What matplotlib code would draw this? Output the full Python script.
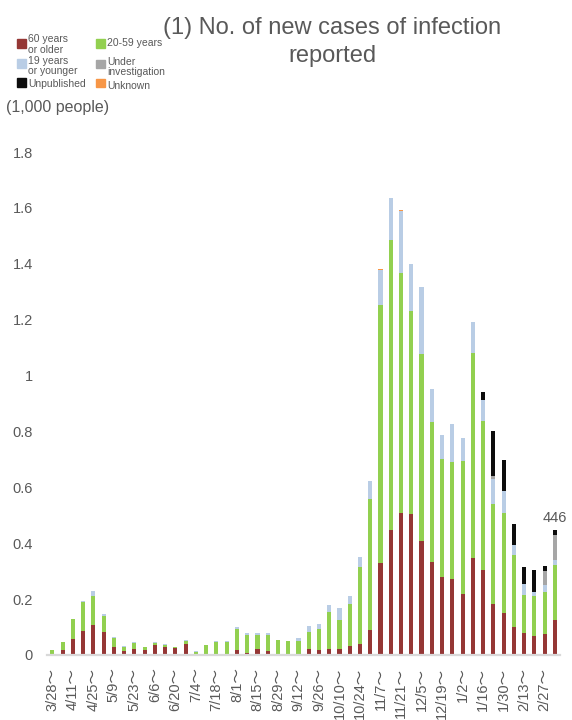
import numpy as np
import matplotlib
matplotlib.use('Agg')
import matplotlib.pyplot as plt
from matplotlib.patches import Rectangle

plt.rcParams['font.family'] = ['Liberation Sans', 'Noto Sans CJK JP']

# weekly new cases (1,000 people), week starting 3/28 ... 3/6
tick_labels = ['3/28', '4/11', '4/25', '5/9', '5/23', '6/6', '6/20', '7/4', '7/18',
               '8/1', '8/15', '8/29', '9/12', '9/26', '10/10', '10/24', '11/7',
               '11/21', '12/5', '12/19', '1/2', '1/16', '1/30', '2/13', '2/27']

age60 = [0.005, 0.017, 0.058, 0.086, 0.107, 0.082, 0.028, 0.014, 0.022, 0.018,
         0.035, 0.028, 0.024, 0.039, 0.001, 0.005, 0.005, 0.001, 0.019, 0.008,
         0.020, 0.013, 0.004, 0.001, 0.004, 0.020, 0.017, 0.020, 0.020, 0.033,
         0.041, 0.089, 0.329, 0.449, 0.508, 0.505, 0.408, 0.332, 0.280, 0.272,
         0.220, 0.346, 0.304, 0.184, 0.150, 0.100, 0.079, 0.067, 0.075, 0.126]
age20_59 = [0.013, 0.029, 0.070, 0.102, 0.103, 0.057, 0.033, 0.016, 0.021, 0.009,
            0.007, 0.009, 0.004, 0.010, 0.011, 0.030, 0.042, 0.045, 0.075, 0.064,
            0.051, 0.057, 0.048, 0.048, 0.045, 0.062, 0.076, 0.134, 0.106, 0.150,
            0.274, 0.469, 0.924, 1.036, 0.859, 0.726, 0.669, 0.502, 0.420, 0.420,
            0.476, 0.734, 0.535, 0.358, 0.358, 0.259, 0.137, 0.145, 0.152, 0.197]
age19 = [0.001, 0.001, 0.002, 0.005, 0.019, 0.006, 0.003, 0.001, 0.005, 0.001,
         0.003, 0.001, 0.001, 0.005, 0.001, 0.002, 0.002, 0.003, 0.006, 0.006,
         0.006, 0.008, 0.003, 0.002, 0.012, 0.022, 0.017, 0.026, 0.042, 0.028,
         0.036, 0.065, 0.125, 0.149, 0.222, 0.167, 0.239, 0.117, 0.086, 0.136,
         0.080, 0.111, 0.074, 0.089, 0.080, 0.036, 0.038, 0.015, 0.025, 0.018]
under_inv = [0] * 43 + [0.011, 0, 0, 0, 0, 0.050, 0.090]
unpublished = [0] * 42 + [0.029, 0.159, 0.111, 0.073, 0.061, 0.078, 0.015, 0.015]
unknown = [0] * 32 + [0.004, 0, 0.004, 0.002, 0.002, 0.002] + [0] * 12

series = [age60, age20_59, age19, under_inv, unpublished, unknown]
colors = ['#953735', '#92D050', '#B9CDE5', '#A6A6A6', '#0D0D0D', '#F79646']
legend_labels = ['60 years\nor older', '20-59 years', '19 years\nor younger',
                 'Under\ninvestigation', 'Unpublished', 'Unknown']
text_c = '#595959'

W, H = 572, 720
fig = plt.figure(figsize=(W / 100, H / 100), dpi=100)
ax = fig.add_axes([46.7 / W, 65 / H, (560 - 46.7) / W, (655 - 138.1) / H])

x = np.arange(len(age60))
bottom = np.zeros(len(x))
for vals, color in zip(series, colors):
    ax.bar(x, vals, 0.4, bottom=bottom, color=color, linewidth=0)
    bottom += np.array(vals)

# label on last bar
ax.annotate(f'{round(bottom[-1] * 1000)}', (x[-1], bottom[-1]), xytext=(0, 4),
            textcoords='offset points', ha='center', va='bottom',
            fontsize=10.5, color=text_c)

ax.set_xlim(-0.55, 49.5)
ax.set_ylim(0, 1.85)
ax.set_xticks(x[::2])
ax.set_xticklabels([t + '～' for t in tick_labels], rotation=90)
yt = np.arange(0, 1.81, 0.2)
ax.set_yticks(yt)
ax.set_yticklabels([f'{v:g}' for v in yt])
ax.tick_params(axis='x', length=0, pad=9, labelsize=10.5, labelcolor=text_c)
ax.tick_params(axis='y', length=0, pad=10, labelsize=10.5, labelcolor=text_c)
for s in ['top', 'right', 'left']:
    ax.spines[s].set_visible(False)
ax.spines['bottom'].set_color('#D9D9D9')
ax.spines['bottom'].set_linewidth(1.6)

# va='baseline' puts the last line on the given baseline
fig.text(332 / W, 1 - 62 / H, '(1) No. of new cases of infection\nreported',
         ha='center', va='baseline', fontsize=17, color=text_c, linespacing=1.35)
fig.text(6 / W, 1 - 112.3 / H, '(1,000 people)', fontsize=11.5, color=text_c,
         va='baseline')

# legend, two columns
leg_pos = [(17, 39.5, 52.7), (96, 39.5, 46), (17, 59.5, 74),
           (96, 60, 75), (17, 78.5, 87.3), (96, 79, 89.3)]
for (px, py, base), label, color in zip(leg_pos, legend_labels, colors):
    fig.patches.append(Rectangle((px / W, 1 - (py + 8.3) / H), 8.5 / W, 8.3 / H,
                                 transform=fig.transFigure, color=color))
    fig.text((px + 11) / W, 1 - base / H, label, fontsize=7.5, color=text_c,
             va='baseline', linespacing=1.05)

fig.savefig('out.png', dpi=100)
